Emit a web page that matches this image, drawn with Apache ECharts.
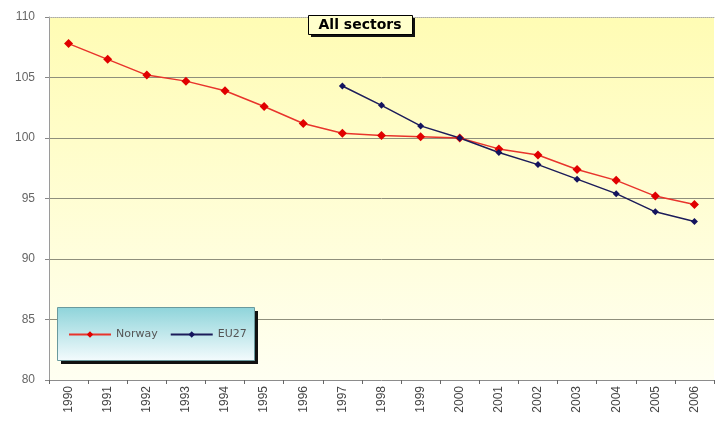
<!DOCTYPE html>
<html>
<head>
<meta charset="utf-8">
<script src="https://cdn.jsdelivr.net/npm/echarts@6/dist/echarts.min.js"></script>
<style>html,body{margin:0;padding:0;background:#fff;}#c{width:718px;height:423px;}</style>
</head>
<body>
<div id="c"></div>
<script>
var years = ['1990','1991','1992','1993','1994','1995','1996','1997','1998','1999','2000','2001','2002','2003','2004','2005','2006'];
var norway = [107.8,106.5,105.2,104.7,103.9,102.6,101.2,100.4,100.2,100.1,100.0,99.1,98.6,97.4,96.5,95.2,94.5];
var eu27 = [null,null,null,null,null,null,null,104.3,102.7,101.0,100.0,98.8,97.8,96.6,95.4,93.9,93.1];
var yTicks = {min:80, max:110, interval:5};
var titleText = 'All sectors';

var chart = echarts.init(document.getElementById('c'));
chart.setOption({
  animation:false,
  backgroundColor:'#ffffff',
  graphic:[
    {type:'rect', left:61, top:311, z:5, shape:{width:197, height:53}, style:{fill:'#111'}},
    {type:'rect', left:57, top:307, z:6, shape:{width:197, height:53},
     style:{fill:{type:'linear',x:0,y:0,x2:0,y2:1,colorStops:[{offset:0,color:'#8ed4da'},{offset:1,color:'#f4fbfd'}]}, stroke:'#6a9a9e', lineWidth:1}},
    {type:'rect', left:311, top:18, z:5, shape:{width:104, height:19}, style:{fill:'#111'}},
    {type:'rect', left:308, top:15, z:6, shape:{width:104, height:19}, style:{fill:'#ffffcc', stroke:'#000', lineWidth:1}},
    {type:'text', x:360, y:25, z:7, style:{text:titleText, fill:'#000', align:'center', verticalAlign:'middle', font:'bold 14px "DejaVu Sans", Arial'}}
  ],
  legend:{
    left:68, top:329, z:8,
    padding:0,
    itemGap:12, itemWidth:42, itemHeight:8,
    textStyle:{fontFamily:'DejaVu Sans, Arial', fontSize:11, color:'#555'},
    data:['Norway','EU27']
  },
  grid:{
    left:49, right:4, top:17, bottom:43, show:true, borderWidth:0,
    backgroundColor:{type:'linear',x:0,y:0,x2:0,y2:1,colorStops:[{offset:0,color:'#fffcb4'},{offset:1,color:'#fffff2'}]}
  },
  xAxis:[{
    type:'category', data:years, boundaryGap:true,
    axisLine:{lineStyle:{color:'#8c8c8c', width:1}},
    axisTick:{show:true, length:4, lineStyle:{color:'#666'}},
    axisLabel:{rotate:90, fontFamily:'Liberation Sans, Arial', fontSize:12, color:'#444', margin:6},
    splitLine:{show:false}
  },{
    type:'category', data:years, position:'top',
    axisLine:{show:true, lineStyle:{color:'#aaaaaa', type:'dotted', width:1}},
    axisTick:{show:false}, axisLabel:{show:false}, splitLine:{show:false}
  }],
  yAxis:{
    type:'value', min:yTicks.min, max:yTicks.max, interval:yTicks.interval,
    axisLine:{show:true, lineStyle:{color:'#9a9a9a', width:1}},
    axisTick:{show:true, length:4, lineStyle:{color:'#888'}},
    axisLabel:{fontFamily:'Liberation Sans, Arial', fontSize:12, color:'#666', margin:14},
    splitLine:{show:true, lineStyle:{color:['rgba(0,0,0,0)','#8f8f7c','#8f8f7c','#8f8f7c','#8f8f7c','#8f8f7c','rgba(0,0,0,0)'], width:1}}
  },
  series:[{
    name:'Norway', type:'line', data:norway, z:3,
    symbol:'diamond', symbolSize:9,
    lineStyle:{color:'#e8342c', width:1.5},
    itemStyle:{color:'#e00000'}
  },{
    name:'EU27', type:'line', data:eu27, z:3,
    symbol:'diamond', symbolSize:7,
    lineStyle:{color:'#1c1c5a', width:1.5},
    itemStyle:{color:'#14145e'}
  }]
});
</script>
</body>
</html>
